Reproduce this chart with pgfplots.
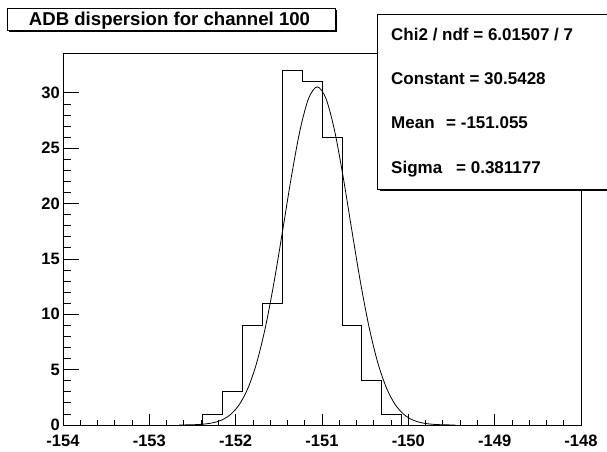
\documentclass[border=0pt]{standalone}
\usepackage{fontspec}
\setmainfont{Liberation Sans}
\usepackage{pgfplots}
\pgfplotsset{compat=1.18}
\pgfplotsset{rootframe/.style={
  at={(63pt,26pt)}, anchor=south west,
  scale only axis, width=518pt, height=372pt,
  xmin=-154, xmax=-148, ymin=0, ymax=33.6,
  tick align=inside,
  xtick pos=bottom, ytick pos=left,
  ticklabel style={font=\bfseries\fontsize{16.5}{16.5}\selectfont, inner sep=0pt},
  xticklabel shift=10pt, yticklabel shift=3pt,
  axis line style={line width=0.8pt},
  every tick/.style={black, line width=0.8pt},
  clip=false}}
\begin{document}
\begin{tikzpicture}[x=1pt,y=1pt]
\path[use as bounding box] (0,0) rectangle (607,451);
\begin{axis}[rootframe,
  xtick={-154,-153,-152,-151,-150,-149,-148},
  xticklabels={-154,-153,-152,-151,-150,-149,-148},
  ytick=\empty, minor x tick num=4,
  major tick length=11pt, minor tick length=5.5pt]
\addplot[const plot, black, line width=0.8pt] coordinates {
(-154,0) (-152.3846,1) (-152.1538,3) (-151.9231,9) (-151.6923,11)
(-151.4615,32) (-151.2308,31) (-151.0,26) (-150.7692,9) (-150.5385,4)
(-150.3077,1) (-150.0769,0) (-148,0)};
\addplot[smooth, black, line width=0.8pt] coordinates {
(-152.655,0.00456) (-152.555,0.01325) (-152.455,0.0360) (-152.355,0.0911)
(-152.255,0.2153) (-152.155,0.4749) (-152.055,0.9782) (-151.955,1.8807)
(-151.855,3.376) (-151.755,5.657) (-151.655,8.849) (-151.555,12.920)
(-151.455,17.610) (-151.355,22.407) (-151.255,26.615) (-151.155,29.509)
(-151.055,30.5428)
(-150.955,29.509) (-150.855,26.615) (-150.755,22.407) (-150.655,17.610)
(-150.555,12.920) (-150.455,8.849) (-150.355,5.657) (-150.255,3.376)
(-150.155,1.8807) (-150.055,0.9782) (-149.955,0.4749) (-149.855,0.2153)
(-149.755,0.0911) (-149.655,0.0360) (-149.555,0.01325) (-149.455,0.00456)};
\end{axis}
\begin{axis}[rootframe,
  xtick=\empty,
  ytick={0,5,10,15,20,25,30},
  yticklabels={0,5,10,15,20,25,30},
  minor y tick num=4,
  major tick length=15.5pt, minor tick length=7.75pt]
\end{axis}
% title box
\fill[black] (9,419) rectangle (337,441);
\draw[fill=white, line width=0.8pt] (7,421) rectangle (335,443);
\node[anchor=base, inner sep=0pt, font=\bfseries\fontsize{18.6}{18.6}\selectfont] at (169.5,425) {ADB dispersion for channel 100};
% stats box
\begin{scope}
\clip (0,0) rectangle (607,451);
\fill[black] (379.5,260.5) rectangle (620,434.5);
\draw[fill=white, line width=0.8pt] (377.5,262) rectangle (620,437);
\end{scope}
\begin{scope}[every node/.style={anchor=base west, inner sep=0pt, font=\bfseries\fontsize{17}{17}\selectfont}]
\node at (391,410.3) {Chi2 / ndf = 6.01507 / 7};
\node at (391,367) {Constant = 30.5428};
\node at (391,322.7) {Mean};
\node at (446,322.7) {= -151.055};
\node at (391,277.7) {Sigma};
\node at (456,277.7) {= 0.381177};
\end{scope}
\end{tikzpicture}
\end{document}
